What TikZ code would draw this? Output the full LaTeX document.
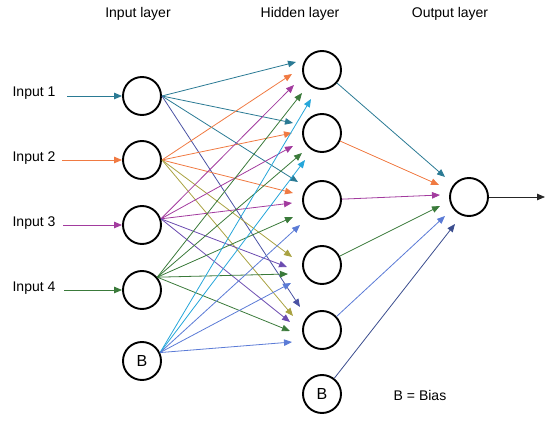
\documentclass[tikz,border=0pt]{standalone}
\usepackage{fontspec}
\setmainfont{Liberation Sans}
\usetikzlibrary{arrows.meta,calc}
\definecolor{cteal}{HTML}{2A7A94}
\definecolor{corange}{HTML}{F07A42}
\definecolor{cmag}{HTML}{A23B9E}
\definecolor{cgreen}{HTML}{3A7A3A}
\definecolor{clblue}{HTML}{26A6DA}
\definecolor{cblue}{HTML}{5B7BD6}
\definecolor{cpurple}{HTML}{6B4BB0}
\definecolor{colive}{HTML}{A9A241}
\definecolor{cslate}{HTML}{4A52A3}
\definecolor{cnavy}{HTML}{3B4D8E}
\begin{document}
\begin{tikzpicture}[x=1pt,y=-1pt,
  neuron/.style={circle,draw=black,line width=1.9pt,minimum size=38pt,inner sep=0pt,font=\fontsize{16}{18}\selectfont},
  lbl/.style={font=\fontsize{14}{16}\selectfont,inner sep=0pt},
  conn/.style={line width=0.8pt,-{Triangle[length=8pt,width=6.5pt]}}]
\useasboundingbox (0,0) rectangle (550,422);

% titles
\node[lbl] (tin) at (138,14) {Input layer};
\node[lbl] (thid) at (300,14) {Hidden layer};
\node[lbl] (tout) at (450,14) {Output layer};

% input layer
\node[neuron] (I1) at (142,96) {};
\node[neuron] (I2) at (142,160) {};
\node[neuron] (I3) at (142,225) {};
\node[neuron] (I4) at (142,290) {};
\node[neuron] (IB) at (142,361) {B};

% hidden layer
\node[neuron] (H1) at (322,70) {};
\node[neuron] (H2) at (322,133) {};
\node[neuron] (H3) at (322,200) {};
\node[neuron] (H4) at (322,265) {};
\node[neuron] (H5) at (322,330) {};
\node[neuron] (HB) at (322,394) {B};

% output
\node[neuron] (O) at (469,197) {};

% input labels and arrows
\node[lbl] (L1) at (34,93) {Input 1};
\node[lbl] (L2) at (34,158) {Input 2};
\node[lbl] (L3) at (34,223) {Input 3};
\node[lbl] (L4) at (34,288) {Input 4};
\coordinate (s1) at (67,96);
\coordinate (s2) at (62,160);
\coordinate (s3) at (63,225);
\coordinate (s4) at (64,290);
\draw[conn,cteal] (s1) -- (I1.west);
\draw[conn,corange] (s2) -- (I2.west);
\draw[conn,cmag] (s3) -- (I3.west);
\draw[conn,cgreen] (s4) -- (I4.west);

% input 1
\draw[conn,cteal] (I1.east) -- ($(H1)+(-26,-8)$);
\draw[conn,cteal] (I1.east) -- ($(H2)+(-29,-10)$);
\draw[conn,cteal] (I1.east) -- ($(H3)+(-24,-18)$);
\draw[conn,cslate] (I1.east) -- ($(H5)+(-22,-23)$);
% input 2
\draw[conn,corange] (I2.east) -- ($(H1)+(-30,4)$);
\draw[conn,corange] (I2.east) -- ($(H2)+(-30,0)$);
\draw[conn,corange] (I2.east) -- ($(H3)+(-29,-7)$);
\draw[conn,colive] (I2.east) -- ($(H4)+(-30,-8)$);
\draw[conn,colive] (I2.east) -- ($(H5)+(-29,-14)$);
% input 3
\draw[conn,cmag] (I3.18) -- ($(H1)+(-28,15)$);
\draw[conn,cmag] (I3.18) -- ($(H2)+(-29,13)$);
\draw[conn,cmag] (I3.18) -- ($(H3)+(-30,3)$);
\draw[conn,cpurple] (I3.18) -- ($(H4)+(-35,2)$);
\draw[conn,cpurple] (I3.18) -- ($(H5)+(-32,-8)$);
% input 4
\draw[conn,cgreen] (I4.40) -- ($(H1)+(-20,23)$);
\draw[conn,cgreen] (I4.40) -- ($(H2)+(-20,20)$);
\draw[conn,cgreen] (I4.40) -- ($(H3)+(-29,17)$);
\draw[conn,cgreen] (I4.40) -- ($(H4)+(-34,9)$);
\draw[conn,cgreen] (I4.40) -- ($(H5)+(-32,1)$);
% bias
\draw[conn,clblue] (IB.25) -- ($(H1)+(-11,29)$);
\draw[conn,clblue] (IB.25) -- ($(H2)+(-17,27)$);
\draw[conn,cblue] (IB.25) -- ($(H3)+(-22,25)$);
\draw[conn,cblue] (IB.25) -- ($(H4)+(-31,18)$);
\draw[conn,cblue] (IB.25) -- ($(H5)+(-30,12)$);

% hidden to output
\draw[conn,cteal] (H1) -- ($(O)+(-24,-20)$);
\draw[conn,corange] (H2) -- ($(O)+(-30,-12)$);
\draw[conn,cmag] (H3) -- ($(O)+(-29,-2)$);
\draw[conn,cgreen] (H4) -- ($(O)+(-29,9)$);
\draw[conn,cblue] (H5) -- ($(O)+(-24,19)$);
\draw[conn,cnavy] (HB) -- ($(O)+(-14,27)$);

% output arrow
\coordinate (oend) at (545,197);
\draw[conn,black!85] (O) -- (oend);

\node[lbl] (bias) at (420,395) {B = Bias};
\end{tikzpicture}
\end{document}
